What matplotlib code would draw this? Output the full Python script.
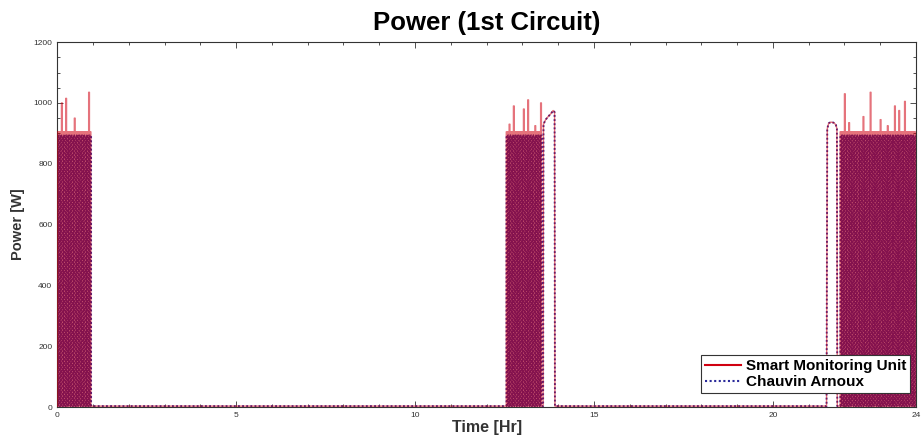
import matplotlib
matplotlib.use("Agg")
import matplotlib.pyplot as plt
import numpy as np
from matplotlib.ticker import MultipleLocator

plt.rcParams['font.family'] = ['Liberation Sans', 'DejaVu Sans']

# ---- data ----
burst1_starts = [0.00, 0.04, 0.08, 0.12, 0.16, 0.20, 0.24, 0.28, 0.32, 0.36, 0.40, 0.44,
                 0.48, 0.52, 0.56, 0.60, 0.64, 0.68, 0.72, 0.76, 0.80, 0.84, 0.88, 0.92]
burst2_starts = [12.55, 12.59, 12.63, 12.67, 12.71, 12.75, 12.79, 12.83, 12.87, 12.91, 12.95,
                 12.99, 13.03, 13.07, 13.11, 13.15, 13.19, 13.23, 13.27, 13.31, 13.35, 13.39,
                 13.43, 13.47, 13.51]
burst3_starts = [21.88, 21.92, 21.96, 22.00, 22.04, 22.08, 22.12, 22.16, 22.20, 22.24, 22.28,
                 22.32, 22.36, 22.40, 22.44, 22.48, 22.52, 22.56, 22.60, 22.64, 22.68, 22.72,
                 22.76, 22.80, 22.84, 22.88, 22.92, 22.96, 23.00, 23.04, 23.08, 23.12, 23.16,
                 23.20, 23.24, 23.28, 23.32, 23.36, 23.40, 23.44, 23.48, 23.52, 23.56, 23.60,
                 23.64, 23.68, 23.72, 23.76, 23.80, 23.84, 23.88, 23.92, 23.96]
cycle_on_hr = 0.022
smu_level = 905.0
ca_level = 893.0
off_level = 3.0

# spikes of the Smart Monitoring Unit (time hr, power W)
smu_spike_t = [0.12, 0.24, 0.48, 0.88, 12.63, 12.75, 13.03, 13.15, 13.35, 13.51,
               22.00, 22.12, 22.52, 22.72, 23.00, 23.20, 23.40, 23.52, 23.68]
smu_spike_p = [1000, 1015, 950, 1035, 930, 990, 980, 1010, 925, 1000,
               1030, 935, 955, 1035, 945, 925, 990, 975, 1005]

# long continuous on-periods (humps)
hump2_t = [13.58, 13.59, 13.65, 13.72, 13.80, 13.86, 13.90, 13.91]
hump2_p = [0, 930, 945, 955, 965, 975, 970, 0]
hump3_t = [21.50, 21.52, 21.56, 21.62, 21.70, 21.76, 21.79, 21.80]
hump3_p = [0, 915, 933, 937, 935, 928, 915, 0]


def build(offset, level, spikes_t, spikes_p):
    t = [0.0]
    p = [off_level]
    spike_map = {round(a, 2): b for a, b in zip(spikes_t, spikes_p)}
    for starts, hump in ((burst1_starts, None), (burst2_starts, (hump2_t, hump2_p)),
                         (burst3_starts, (hump3_t, hump3_p))):
        if hump is not None and hump[0][0] < starts[0]:
            t += list(hump[0])
            p += [off_level if v == 0 else v for v in hump[1]]
        for s in starts:
            pk = spike_map.get(round(s, 2), level)
            s2 = s + offset
            t += [s2, s2, s2 + cycle_on_hr, s2 + cycle_on_hr]
            p += [off_level, pk, pk, off_level]
        if hump is not None and hump[0][0] > starts[0]:
            t += list(hump[0])
            p += [off_level if v == 0 else v for v in hump[1]]
    t.append(24.0)
    p.append(off_level)
    return np.array(t), np.array(p)


t_smu, p_smu = build(0.0, smu_level, smu_spike_t, smu_spike_p)
t_ca, p_ca = build(0.006, ca_level, [], [])

fig = plt.figure(figsize=(9.22, 4.48), dpi=100)
ax = fig.add_axes([0.062, 0.0915, 0.9315, 0.8145])

ax.plot(t_ca, p_ca, color="#2a2a9a", lw=1.35, ls=(0, (1, 1.2)), label="Chauvin Arnoux", zorder=2)
ax.plot(t_smu, p_smu, color="#d00010", lw=1.0, alpha=0.55, label="Smart Monitoring Unit", zorder=3)

ax.set_xlim(0, 24)
ax.set_ylim(0, 1200)
ax.set_xticks([0, 5, 10, 15, 20, 24])
ax.set_yticks([0, 200, 400, 600, 800, 1000, 1200])
ax.xaxis.set_minor_locator(MultipleLocator(1))
ax.yaxis.set_minor_locator(MultipleLocator(50))
ax.tick_params(which="both", direction="in", top=True, right=True, labelsize=6,
               colors="#333333", width=0.6)
ax.tick_params(which="major", length=4)
ax.tick_params(which="minor", length=2)
for sp in ax.spines.values():
    sp.set_linewidth(0.8)
    sp.set_color("#333333")

ax.set_title("Power (1st Circuit)", fontsize=18.5, fontweight="bold", pad=9)
ax.set_xlabel("Time [Hr]", fontsize=11.5, fontweight="bold", labelpad=1, color="#333333")
ax.set_ylabel("Power [W]", fontsize=10.5, fontweight="bold", labelpad=6, color="#333333")

handles, labels = ax.get_legend_handles_labels()
leg = ax.legend(handles[::-1], labels[::-1], loc="lower right", bbox_to_anchor=(0.9965, 0.03),
                prop={"weight": "bold", "size": 11}, fancybox=False, framealpha=1,
                edgecolor="#333333", handlelength=2.4, handletextpad=0.3,
                borderpad=0.25, labelspacing=0.15, borderaxespad=0.2)
leg.get_frame().set_linewidth(0.8)
for h in leg.get_lines():
    h.set_alpha(1)
    h.set_linewidth(1.5)

fig.savefig("out.png", dpi=100)
